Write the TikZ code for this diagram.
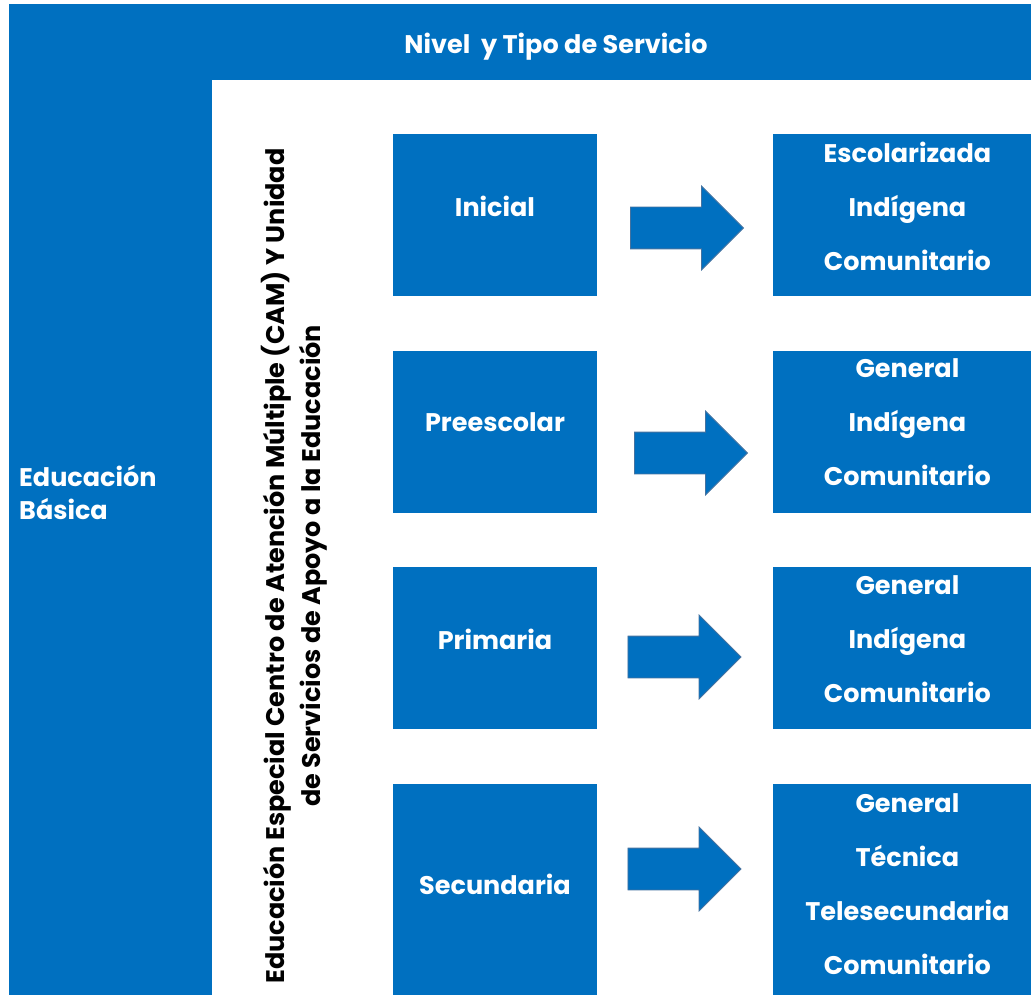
\documentclass[tikz,border=0pt]{standalone}
\usepackage{fontspec}
\setmainfont{Poppins}
\usepackage{xcolor}
\usepackage{tikz}
\usetikzlibrary{positioning}
\usetikzlibrary{shapes.arrows}

\definecolor{sepblue}{RGB}{0,112,192}
\definecolor{arrowedge}{RGB}{68,114,160}

\tikzset{
  panel/.style={fill=sepblue, draw=none, inner sep=0pt},
  levelbox/.style={panel, minimum width=204pt, minimum height=162pt},
  btext/.style={text=white, inner sep=0pt, font=\bfseries\fontsize{25.5}{33}\selectfont},
  listtext/.style={btext, align=center, font=\bfseries\fontsize{25.5}{54}\selectfont},
  fatarrow/.style={shape=single arrow, fill=sepblue, draw=arrowedge, line width=0.8pt,
    inner xsep=0pt, inner ysep=20.5pt, minimum height=113pt,
    single arrow head extend=21pt, single arrow head indent=0pt},
}

\begin{document}
\begin{tikzpicture}[x=1pt,y=-1pt]
  \useasboundingbox (0,0) rectangle (1031,995);

  % header and left column
  \node[panel, anchor=north west, minimum width=1022pt, minimum height=76pt] (header) at (9,4) {};
  \node[panel, anchor=north west, minimum width=203pt, minimum height=915pt] (basica) at (9,80) {};
  \node[btext] (headertxt) at (556,46.5) {Nivel\ \ y Tipo de Servicio};
  \node[btext, align=left, anchor=west] (basicatxt) at (19,492) {Educación\\Básica};

  % special education, written upwards
  \node[btext, text=black, align=center, rotate=90, font=\bfseries\fontsize{25.5}{36}\selectfont]
    (especial) at (294,566) {Educación Especial Centro de Atención Múltiple (CAM) Y Unidad\\de Servicios de Apoyo a la Educación};

  % levels
  \node[levelbox, anchor=north] (inicial) at (495,134) {};
  \node[levelbox, below=54pt of inicial] (preescolar) {};
  \node[levelbox, below=54pt of preescolar] (primaria) {};
  \node[levelbox, below=55pt of primaria, minimum height=213pt] (secundaria) {};

  \node[btext] (inicialtxt) at ([yshift=9pt]inicial.center) {Inicial};
  \node[btext] (preescolartxt) at ([yshift=9pt]preescolar.center) {Preescolar};
  \node[btext] (primariatxt) at ([yshift=9pt]primaria.center) {Primaria};
  \node[btext] (secundariatxt) at ([yshift=7pt]secundaria.center) {Secundaria};

  % types of service
  \node[levelbox, right=176pt of inicial, minimum width=258pt] (tipoini) {};
  \node[levelbox, right=176pt of preescolar, minimum width=258pt] (tipopre) {};
  \node[levelbox, right=176pt of primaria, minimum width=258pt] (tipopri) {};
  \node[levelbox, right=176pt of secundaria, minimum width=258pt, minimum height=213pt] (tiposec) {};

  \node[listtext] (tipoinitxt) at ([xshift=5pt,yshift=9pt]tipoini.center) {Escolarizada\\Indígena\\Comunitario};
  \node[listtext] (tipopretxt) at ([xshift=5pt,yshift=9pt]tipopre.center) {General\\Indígena\\Comunitario};
  \node[listtext] (tipopritxt) at ([xshift=5pt,yshift=9pt]tipopri.center) {General\\Indígena\\Comunitario};
  \node[listtext] (tiposectxt) at ([xshift=5pt,yshift=7pt]tiposec.center) {General\\Técnica\\Telesecundaria\\Comunitario};

  % block arrows
  \node[fatarrow] (arrini) at (676.5,228) {};
  \node[fatarrow] (arrpre) at (680.5,453) {};
  \node[fatarrow] (arrpri) at (674,657) {};
  \node[fatarrow] (arrsec) at (674,869) {};

\end{tikzpicture}
\end{document}
